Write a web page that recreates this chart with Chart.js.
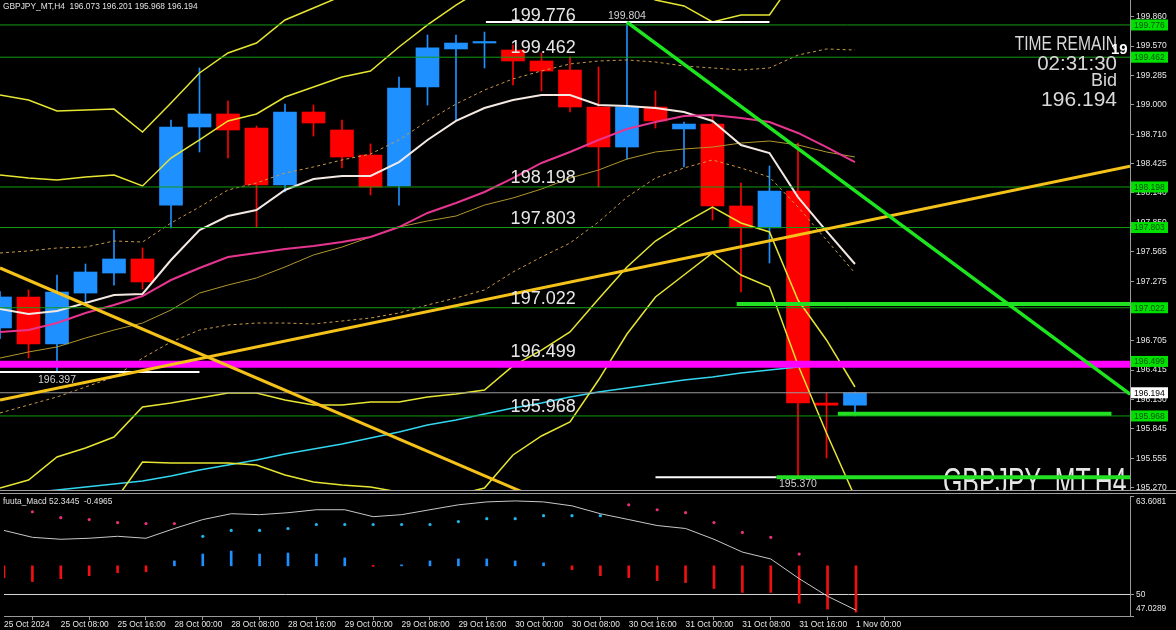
<!DOCTYPE html>
<html>
<head>
<meta charset="utf-8">
<script src="https://cdn.jsdelivr.net/npm/chart.js@4.4.1/dist/chart.umd.min.js"></script>
<style>
  html, body { margin: 0; padding: 0; background: #000; overflow: hidden; }
  #wrap { position: relative; width: 1176px; height: 630px; }
  #main { position: absolute; left: 0; top: 0; }
  #macd { position: absolute; left: 0; top: 492px; }
</style>
</head>
<body>
<div id="wrap">
  <canvas id="main" width="1176" height="492"></canvas>
  <canvas id="macd" width="1176" height="138"></canvas>
</div>
<script>
// ---- data (GBPJPY H4, 25 Oct 2024 00:00 -> 1 Nov 00:00) ----
const symbolName = 'GBPJPY_MT,H4';
const xTickIdx = [0, 2, 4, 6, 8, 10, 12, 14, 16, 18, 20, 22, 24, 26, 28, 30];
const xTickLabels = ['25 Oct 2024', '25 Oct 08:00', '25 Oct 16:00', '28 Oct 00:00', '28 Oct 08:00', '28 Oct 16:00',
  '29 Oct 00:00', '29 Oct 08:00', '29 Oct 16:00', '30 Oct 00:00', '30 Oct 08:00', '30 Oct 16:00',
  '31 Oct 00:00', '31 Oct 08:00', '31 Oct 16:00', '1 Nov 00:00'];

const opens  = [196.825, 197.127, 196.669, 197.165, 197.360, 197.497, 198.022, 198.782, 198.909, 198.772, 198.217, 198.928, 198.753, 198.509, 198.208, 199.172, 199.542, 199.600, 199.532, 199.425, 199.337, 198.977, 198.587, 198.977, 198.763, 198.811, 198.013, 197.799, 198.159, 196.094, 196.073];
const highs  = [197.180, 197.195, 197.341, 197.448, 197.779, 197.604, 198.850, 199.357, 199.035, 198.792, 199.006, 198.996, 198.850, 198.617, 199.269, 199.678, 199.678, 199.707, 199.580, 199.503, 199.464, 199.366, 199.804, 199.133, 198.830, 198.899, 198.237, 198.402, 198.626, 196.192, 196.201];
const lows   = [196.720, 196.532, 196.397, 197.078, 197.243, 197.204, 197.799, 198.539, 198.480, 197.808, 198.149, 198.694, 198.383, 198.120, 198.022, 198.996, 198.850, 199.357, 199.191, 199.133, 198.928, 198.198, 198.470, 198.772, 198.393, 197.877, 197.175, 197.458, 195.370, 195.559, 195.968];
const closes = [197.127, 196.669, 197.175, 197.370, 197.497, 197.273, 198.782, 198.909, 198.753, 198.217, 198.928, 198.821, 198.490, 198.198, 199.162, 199.552, 199.600, 199.610, 199.425, 199.327, 198.977, 198.587, 198.977, 198.841, 198.811, 198.013, 197.799, 198.159, 196.094, 196.073, 196.194];

const bbUpper3 = [199.094, 199.045, 198.938, 198.948, 198.957, 198.733, 199.016, 199.308, 199.503, 199.600, 199.824, 199.941, 200.058, 200.136, 200.389, 200.633, 200.934, 201.022, 201.032, 201.120, 201.168, 200.993, 200.779, 200.555, 200.389, 200.243, 200.370, 200.360, 200.944, 201.363, 201.694];
const bbUpper2 = [198.315, 198.285, 198.266, 198.295, 198.315, 198.208, 198.480, 198.656, 198.841, 198.909, 199.074, 199.172, 199.269, 199.328, 199.561, 199.776, 199.970, 200.136, 200.116, 200.243, 200.292, 200.214, 200.136, 200.019, 199.961, 199.805, 199.873, 199.873, 200.272, 200.438, 200.623];
const bbUpper1 = [197.555, 197.575, 197.604, 197.613, 197.672, 197.662, 197.847, 198.003, 198.169, 198.237, 198.334, 198.393, 198.461, 198.519, 198.656, 198.841, 199.006, 199.142, 199.250, 199.328, 199.396, 199.425, 199.435, 199.415, 199.376, 199.357, 199.337, 199.357, 199.483, 199.542, 199.532];
const bbMiddle = [196.786, 196.805, 196.873, 196.971, 197.049, 197.136, 197.292, 197.409, 197.516, 197.555, 197.594, 197.623, 197.662, 197.711, 197.808, 197.945, 198.042, 198.149, 198.285, 198.432, 198.539, 198.656, 198.763, 198.831, 198.889, 198.899, 198.870, 198.831, 198.724, 198.587, 198.441];
const bbLower1 = [195.997, 196.075, 196.153, 196.250, 196.347, 196.532, 196.688, 196.805, 196.854, 196.873, 196.873, 196.864, 196.893, 196.922, 196.971, 197.049, 197.117, 197.195, 197.370, 197.516, 197.652, 197.857, 198.100, 198.285, 198.383, 198.461, 198.383, 198.295, 198.003, 197.682, 197.360];
const bbLower2 = [195.266, 195.344, 195.568, 195.656, 195.763, 196.055, 196.094, 196.143, 196.192, 196.192, 196.123, 196.075, 196.075, 196.104, 196.104, 196.153, 196.182, 196.221, 196.455, 196.610, 196.786, 197.107, 197.419, 197.672, 197.847, 198.003, 197.847, 197.760, 197.097, 196.708, 196.250];
const bbLower3 = [194.565, 194.760, 194.955, 195.052, 195.130, 195.520, 195.510, 195.510, 195.510, 195.490, 195.393, 195.325, 195.296, 195.276, 195.227, 195.149, 195.198, 195.266, 195.588, 195.773, 195.909, 196.318, 196.766, 197.127, 197.341, 197.555, 197.341, 197.224, 196.464, 195.802, 195.179];
const maFast = [197.010, 196.961, 196.990, 197.068, 197.146, 197.156, 197.487, 197.779, 197.915, 197.974, 198.169, 198.276, 198.305, 198.305, 198.441, 198.656, 198.841, 198.967, 199.045, 199.094, 199.094, 198.996, 198.987, 198.967, 198.928, 198.841, 198.607, 198.529, 198.100, 197.769, 197.448];
const maSlow = [196.532, 196.591, 196.640, 196.727, 196.805, 196.873, 197.000, 197.165, 197.243, 197.312, 197.419, 197.536, 197.613, 197.711, 197.808, 197.867, 197.915, 198.022, 198.091, 198.178, 198.285, 198.363, 198.470, 198.539, 198.568, 198.587, 198.626, 198.646, 198.607, 198.539, 198.490];
const maLong = [195.188, 195.218, 195.247, 195.276, 195.305, 195.335, 195.383, 195.442, 195.490, 195.539, 195.598, 195.646, 195.695, 195.753, 195.812, 195.880, 195.929, 195.987, 196.045, 196.094, 196.153, 196.201, 196.240, 196.279, 196.318, 196.347, 196.386, 196.416, 196.445, 196.474, 196.493];

// horizontal levels and trend lines (bar index, price)
const levelPrices = [199.776, 199.462, 198.198, 197.803, 197.022, 196.499, 195.968];
const zonePrice = 196.472;
const greenTrend = [[22, 199.804], [39.65, 196.180]];
const goldUpTrend = [[0, 196.123], [39.65, 198.400]];
const goldDownTrend = [[0, 197.409], [20, 195.029]];
const priceTicks = [199.860, 199.570, 199.285, 199.000, 198.710, 198.425, 198.140, 197.850, 197.565, 197.275, 196.990, 196.705, 196.415, 196.130, 195.845, 195.555, 195.270];

// indicator sub window
const macdLine = [58.85, 57.90, 57.63, 57.77, 58.04, 57.77, 59.12, 60.35, 61.16, 61.03, 61.30, 61.71, 61.71, 60.75, 61.03, 61.71, 62.39, 62.79, 62.93, 62.79, 62.25, 61.16, 60.35, 59.53, 59.12, 57.63, 55.86, 54.91, 52.19, 49.75, 47.84];
const macdHist = [52.33, 51.79, 52.19, 52.60, 53.01, 53.14, 54.64, 55.59, 56.00, 55.59, 55.73, 55.59, 55.05, 53.89, 54.10, 54.64, 54.91, 54.91, 54.64, 54.37, 53.42, 52.60, 52.33, 51.92, 51.65, 50.83, 50.29, 50.29, 48.80, 47.98, 47.57];
const histBase = 53.96;
const pinkDots = [null, 61.43, 60.62, 60.35, 59.94, 59.80, 59.80, null, null, null, null, null, null, null, null, null, null, null, null, null, null, null, 62.39, 61.71, 61.30, 59.94, 58.58, 57.90, 55.59, null, null];
const cyanDots = [null, null, null, null, null, null, null, 58.04, 58.85, 58.85, 59.12, 59.67, 59.67, 59.67, 59.67, 59.67, 60.08, 60.48, 60.48, 60.89, 60.89, 60.89, null, null, null, null, null, null, null, null, null];
const macdTicks = [63.6081, 50, 47.0289];
const macdInfo = 'fuuta_Macd 52.3445  -0.4965';

// ---- helpers ----
const FONT = '"Liberation Sans", Arial, sans-serif';
const X_MAX = 39.65;
const idxs = opens.map((_, i) => i);
const last = opens.length - 1;
const candleColors = idxs.map(i => closes[i] >= opens[i] ? '#1e90ff' : '#ff0000');

function series(values, color, width, order, dash) {
  return {
    type: 'line', data: values.map((v, i) => ({ x: i, y: v })),
    borderColor: color, borderWidth: width, borderDash: dash || [],
    pointRadius: 0, tension: 0, order: order, clip: 0
  };
}
function segment(a, b, color, width, order) {
  return {
    type: 'line', data: [{ x: a[0], y: a[1] }, { x: b[0], y: b[1] }],
    borderColor: color, borderWidth: width, pointRadius: 0, order: order, clip: 0
  };
}

const mainDecor = {
  id: 'mainDecor',
  beforeDatasetsDraw(chart) {
    const { ctx, chartArea: a } = chart;
    ctx.save();
    ctx.beginPath();
    ctx.rect(a.left, a.top, a.right - a.left, a.bottom - a.top);
    ctx.clip();
    ctx.fillStyle = '#e6e6e6';
    ctx.font = '36px ' + FONT;
    ctx.textAlign = 'left';
    ctx.textBaseline = 'alphabetic';
    ctx.translate(943, a.bottom + 4);
    ctx.scale(0.69, 1);
    ctx.fillText(symbolName, 0, 0);
    ctx.restore();
  },
  afterDatasetsDraw(chart) {
    const { ctx, scales: { x, y } } = chart;
    ctx.save();
    ctx.textBaseline = 'alphabetic';
    // level labels
    ctx.font = '18px ' + FONT;
    ctx.fillStyle = '#e8e8e8';
    ctx.textAlign = 'right';
    levelPrices.forEach(p => ctx.fillText(p.toFixed(3), x.getPixelForValue(20.2), y.getPixelForValue(p) - 4));
    // high / low markers
    ctx.font = '10.5px ' + FONT;
    ctx.fillStyle = '#d0d0d0';
    ctx.textAlign = 'center';
    ctx.fillText(highs[22].toFixed(3), x.getPixelForValue(22), y.getPixelForValue(highs[22]) - 3);
    ctx.fillText(lows[2].toFixed(3), x.getPixelForValue(2), y.getPixelForValue(lows[2]) + 11);
    ctx.fillText(lows[28].toFixed(3), x.getPixelForValue(28), y.getPixelForValue(lows[28]) + 10);
    // header
    ctx.textAlign = 'left';
    ctx.font = '8.4px ' + FONT;
    ctx.fillStyle = '#e0e0e0';
    ctx.fillText(symbolName + '  ' + [opens[last], highs[last], lows[last], closes[last]].map(v => v.toFixed(3)).join(' '), 3, 9);
    // time remain block
    ctx.fillStyle = '#d8d8d8';
    ctx.textAlign = 'right';
    ctx.save();
    ctx.translate(1117, 50);
    ctx.scale(0.78, 1);
    ctx.font = '20px ' + FONT;
    ctx.fillText('TIME REMAIN', 0, 0);
    ctx.restore();
    ctx.font = '20.5px ' + FONT;
    ctx.fillText('02:31:30', 1117, 69.5);
    ctx.font = '18px ' + FONT;
    ctx.fillText('Bid', 1117, 85.5);
    ctx.font = '21px ' + FONT;
    ctx.fillText(closes[last].toFixed(3), 1117, 105.5);
    ctx.textAlign = 'left';
    ctx.fillStyle = '#ffffff';
    ctx.font = 'bold 15px ' + FONT;
    ctx.fillText('19', 1111, 54);
    ctx.restore();
  },
  afterDraw(chart) {
    const { ctx, chartArea: a, scales: { y } } = chart;
    ctx.save();
    ctx.font = '8.5px ' + FONT;
    ctx.textAlign = 'left';
    ctx.textBaseline = 'middle';
    const box = (p, bg, fg) => {
      const py = y.getPixelForValue(p);
      ctx.fillStyle = bg;
      ctx.fillRect(a.right + 1, py - 5.5, 37, 11);
      ctx.fillStyle = fg;
      ctx.fillText(p.toFixed(3), a.right + 4, py + 0.5);
    };
    levelPrices.forEach(p => box(p, '#00e000', '#0a4f0a'));
    box(closes[last], '#ffffff', '#000000');
    ctx.fillStyle = '#a0a0a0';
    ctx.fillRect(0, a.bottom, 1176, 1);
    ctx.restore();
  }
};

// ---- main price chart ----
new Chart(document.getElementById('main'), {
  type: 'bar',
  data: {
    datasets: [
      segment([0, zonePrice], [X_MAX, zonePrice], '#ff00ff', 7, 2),
      segment(greenTrend[0], greenTrend[1], '#1ee61e', 3.5, 1),
      segment(goldUpTrend[0], goldUpTrend[1], '#f5c21a', 3, 1),
      segment(goldDownTrend[0], goldDownTrend[1], '#f5c21a', 3, 1),
      ...levelPrices.filter(p => p !== 196.499).map(p => segment([0, p], [X_MAX, p], '#139c13', 1, 6)),
      segment([0, closes[last]], [X_MAX, closes[last]], '#9a9a9a', 1, 6),
      segment([25.85, 197.058], [X_MAX, 197.058], '#22e022', 4, 3),
      segment([29.4, 195.990], [39.0, 195.990], '#22e022', 4, 3),
      segment([27.25, lows[28]], [X_MAX, lows[28]], '#22e022', 4, 3),
      segment([17.05, highs[22]], [27.0, highs[22]], '#ffffff', 2, 3),
      segment([0, lows[2]], [7.0, lows[2]], '#ffffff', 2, 3),
      segment([23.0, lows[28]], [27.25, lows[28]], '#ffffff', 2, 4),
      series(bbUpper3, '#e6e632', 1.5, 8),
      series(bbUpper2, '#e6e632', 1.5, 8),
      series(bbLower2, '#e6e632', 1.5, 8),
      series(bbLower3, '#e6e632', 1.5, 8),
      series(bbUpper1, '#c89a48', 1, 9, [3, 3]),
      series(bbLower1, '#c89a48', 1, 9, [3, 3]),
      series(maSlow, '#b0962c', 1, 9),
      series(maLong, '#33d6f0', 1.5, 8),
      series(bbMiddle, '#e6358f', 2, 7),
      series(maFast, '#f3e9e2', 2, 7),
      {
        type: 'bar', data: idxs.map(i => ({ x: i, y: [lows[i], highs[i]] })),
        backgroundColor: candleColors, barThickness: 1, grouped: false, order: 21
      },
      {
        type: 'bar', data: idxs.map(i => ({ x: i, y: [opens[i], closes[i]] })),
        backgroundColor: candleColors, barThickness: 23, minBarLength: 1.5, grouped: false, order: 20
      }
    ]
  },
  options: {
    responsive: false,
    animation: false,
    events: [],
    layout: { padding: { left: 0, right: 0, top: 0, bottom: 2 } },
    plugins: { legend: { display: false }, tooltip: { enabled: false } },
    scales: {
      x: { type: 'linear', min: 0, max: X_MAX, offset: false, display: false },
      y: {
        position: 'right', min: 195.247, max: 200.019,
        afterBuildTicks: s => { s.ticks = priceTicks.map(v => ({ value: v })); },
        afterFit: s => { s.width = 46; s.paddingTop = 0; s.paddingBottom = 0; },
        ticks: {
          color: '#e6e6e6', padding: 2, autoSkip: false,
          font: { family: FONT, size: 8.5 },
          callback: v => Number(v).toFixed(3)
        },
        grid: { display: true, drawOnChartArea: false, drawTicks: true, tickLength: 4, color: '#9a9a9a' },
        border: { display: true, color: '#9a9a9a', width: 1 }
      }
    }
  },
  plugins: [mainDecor]
});

// ---- indicator chart ----
const macdDecor = {
  id: 'macdDecor',
  afterDraw(chart) {
    const { ctx, chartArea: a, scales: { y } } = chart;
    ctx.save();
    ctx.fillStyle = '#a0a0a0';
    ctx.fillRect(0, 1, 1176, 1);
    ctx.font = '8.4px ' + FONT;
    ctx.fillStyle = '#e0e0e0';
    ctx.textBaseline = 'alphabetic';
    ctx.textAlign = 'left';
    ctx.fillText(macdInfo, 3, 12);
    ctx.textBaseline = 'middle';
    macdTicks.forEach(v => {
      const py = y.getPixelForValue(v);
      ctx.fillStyle = '#9a9a9a';
      ctx.fillRect(a.right, Math.round(py), 4, 1);
      ctx.fillStyle = '#e6e6e6';
      ctx.fillText(String(v), a.right + 6, Math.min(Math.max(py, a.top + 6), a.bottom - 7));
    });
    ctx.restore();
  }
};

new Chart(document.getElementById('macd'), {
  type: 'bar',
  data: {
    datasets: [
      segment([0, 50], [X_MAX, 50], '#d8d8d8', 1, 9),
      series(macdLine, '#c8c8c8', 1, 3),
      {
        type: 'line', data: pinkDots.map((v, i) => ({ x: i, y: v })), showLine: false,
        pointRadius: 1.6, pointBorderWidth: 0, pointBackgroundColor: '#e8307a', order: 2
      },
      {
        type: 'line', data: cyanDots.map((v, i) => ({ x: i, y: v })), showLine: false,
        pointRadius: 1.6, pointBorderWidth: 0, pointBackgroundColor: '#1eb8ea', order: 2
      },
      {
        type: 'bar', data: idxs.map(i => ({ x: i, y: [histBase, macdHist[i]] })),
        backgroundColor: idxs.map(i => macdHist[i] >= histBase ? '#1e90ff' : '#f01010'),
        barThickness: 2, minBarLength: 1, grouped: false, order: 5
      }
    ]
  },
  options: {
    responsive: false,
    animation: false,
    events: [],
    layout: { padding: { left: 0, right: 0, top: 2, bottom: 0 } },
    plugins: { legend: { display: false }, tooltip: { enabled: false } },
    scales: {
      x: {
        type: 'linear', min: 0, max: X_MAX, offset: false, position: 'bottom',
        afterBuildTicks: s => { s.ticks = xTickIdx.map(v => ({ value: v })); },
        afterFit: s => { s.height = 14; s.paddingLeft = 0; s.paddingRight = 0; },
        ticks: {
          color: '#e6e6e6', align: 'start', padding: 0, autoSkip: false, maxRotation: 0, minRotation: 0,
          font: { family: FONT, size: 8.4 },
          callback: (v, i) => xTickLabels[i]
        },
        grid: { display: true, drawOnChartArea: false, drawTicks: true, tickLength: 4, color: '#9a9a9a' },
        border: { display: true, color: '#9a9a9a', width: 1 }
      },
      y: {
        position: 'right', min: 47.0289, max: 63.6081,
        afterFit: s => { s.width = 46; s.paddingTop = 0; s.paddingBottom = 0; },
        ticks: { display: false },
        grid: { display: false },
        border: { display: true, color: '#9a9a9a', width: 1 }
      }
    }
  },
  plugins: [macdDecor]
});
</script>
</body>
</html>
